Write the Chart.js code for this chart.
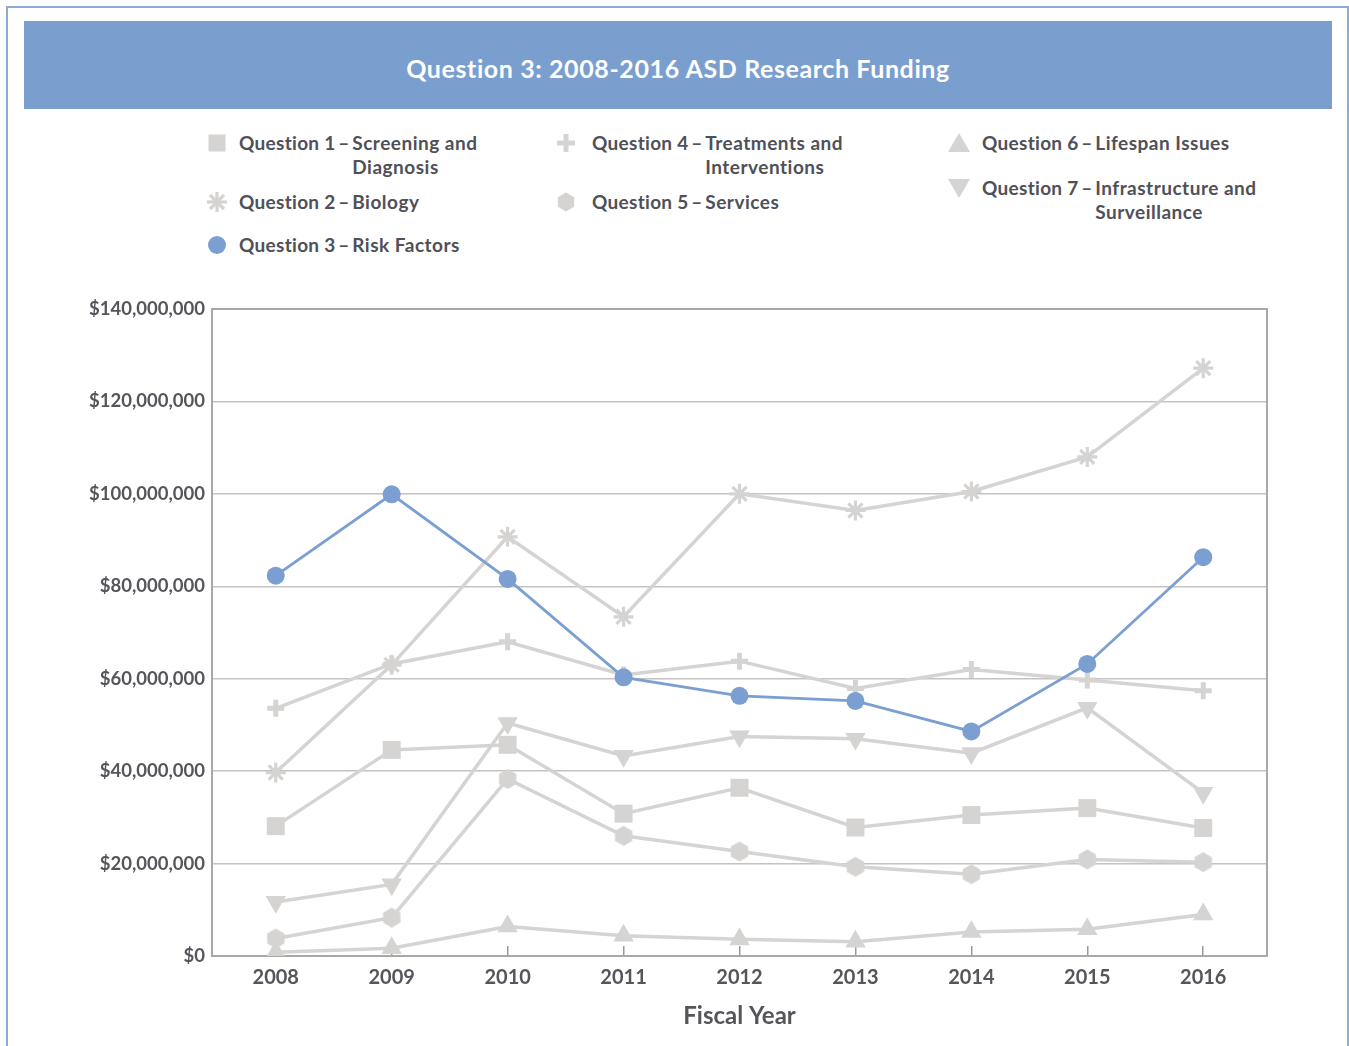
<!DOCTYPE html>
<html>
<head>
<meta charset="utf-8">
<script src="https://cdn.jsdelivr.net/npm/chart.js@4.4.1/dist/chart.umd.min.js"></script>
<style>
  html, body { margin: 0; padding: 0; background: #fff; }
  body { width: 1349px; height: 1046px; overflow: hidden; position: relative; font-family: Lato, "Noto Sans", sans-serif; }
  #frame { position: absolute; left: 6px; top: 6px; width: 1339px; height: 1100px; border: 2px solid #8eabd6; border-bottom: none; }
  #banner { position: absolute; left: 24px; top: 21px; width: 1308px; height: 88px; background: #7a9ecd; }
  #banner h1 { margin: 0; padding-top: 32px; text-align: center; color: #fff; font-size: 25px; font-weight: 700; letter-spacing: 0.6px; line-height: 30px; }
  .li { position: absolute; display: flex; align-items: flex-start; color: #4f5058; font-size: 19px; font-weight: 700; line-height: 24px; letter-spacing: 0.3px; white-space: nowrap; }
  .li svg { position: absolute; }
  .li .rest { letter-spacing: 0.5px; }
  #chartBox { position: absolute; left: 0; top: 290px; }
</style>
</head>
<body>
<div id="frame"></div>
<div id="banner"><h1>Question 3: 2008-2016 ASD Research Funding</h1></div>
<div id="legend"></div>
<div id="chartBox"><canvas id="c" width="1349" height="756"></canvas></div>
<script>
const years = [2008, 2009, 2010, 2011, 2012, 2013, 2014, 2015, 2016];

const seriesPrefix = ["Question 1", "Question 2", "Question 3", "Question 4", "Question 5", "Question 6", "Question 7"];
const seriesRest = [["Screening and", "Diagnosis"], ["Biology"], ["Risk Factors"], ["Treatments and", "Interventions"], ["Services"], ["Lifespan Issues"], ["Infrastructure and", "Surveillance"]];

// funding in dollars
const q1 = [28.1e6, 44.6e6, 45.7e6, 30.8e6, 36.4e6, 27.8e6, 30.5e6, 32.0e6, 27.7e6];
const q2 = [39.7e6, 63.0e6, 90.7e6, 73.4e6, 100.0e6, 96.4e6, 100.5e6, 108.0e6, 127.2e6];
const q3 = [82.3e6, 99.9e6, 81.6e6, 60.3e6, 56.3e6, 55.2e6, 48.6e6, 63.2e6, 86.3e6];
const q4 = [53.6e6, 63.2e6, 68.0e6, 60.8e6, 63.8e6, 57.9e6, 62.0e6, 59.7e6, 57.4e6];
const q5 = [3.8e6, 8.3e6, 38.3e6, 26.0e6, 22.6e6, 19.3e6, 17.7e6, 20.9e6, 20.3e6];
const q6 = [0.8e6, 1.7e6, 6.4e6, 4.4e6, 3.6e6, 3.1e6, 5.2e6, 5.8e6, 9.0e6];
const q7 = [11.7e6, 15.5e6, 50.4e6, 43.3e6, 47.5e6, 47.0e6, 43.9e6, 53.7e6, 35.3e6];

const yTicks = [0, 20e6, 40e6, 60e6, 80e6, 100e6, 120e6, 140e6];

const GREY = "#d5d4d2";
const BLUE = "#7a9fd0";

// legend, built as html so the hanging indent of the second lines can be kept
const legendPos = [
  { x: 239, y: 131, ix: 217 },
  { x: 239, y: 190, ix: 217 },
  { x: 239, y: 233, ix: 217 },
  { x: 592, y: 131, ix: 566 },
  { x: 592, y: 190, ix: 566 },
  { x: 982, y: 131, ix: 959 },
  { x: 982, y: 176, ix: 959 }
];

function icon(i) {
  const g = GREY;
  switch (i) {
    case 0: return `<rect x="2.5" y="2.5" width="17" height="17" fill="${g}"/>`;
    case 1: return `<g stroke="${g}" stroke-width="3.2"><line x1="11" y1="1" x2="11" y2="21"/><line x1="1" y1="11" x2="21" y2="11"/><line x1="4" y1="4" x2="18" y2="18"/><line x1="18" y1="4" x2="4" y2="18"/></g>`;
    case 2: return `<circle cx="11" cy="11" r="9" fill="${BLUE}"/>`;
    case 3: return `<g stroke="${g}" stroke-width="5"><line x1="11" y1="2" x2="11" y2="20"/><line x1="2" y1="11" x2="20" y2="11"/></g>`;
    case 4: return `<polygon points="11,1.5 19.2,6.25 19.2,15.75 11,20.5 2.8,15.75 2.8,6.25" fill="${g}"/>`;
    case 5: return `<polygon points="11,1 22,20 0,20" fill="${g}"/>`;
    case 6: return `<polygon points="0,2 22,2 11,21" fill="${g}"/>`;
  }
}

const legend = document.getElementById("legend");
legendPos.forEach((p, i) => {
  const d = document.createElement("div");
  d.className = "li";
  d.style.left = p.x + "px";
  d.style.top = p.y + "px";
  d.innerHTML = `<svg width="22" height="22" style="left:${p.ix - p.x - 11}px;top:1px">${icon(i)}</svg>` +
    `<span>${seriesPrefix[i].replace(/ /g, "&nbsp;")}&thinsp;–&thinsp;</span><span class="rest">${seriesRest[i].join("<br>")}</span>`;
  legend.appendChild(d);
});

// hexagon marker (no built-in point style for it)
function makeHex(r, color) {
  const c = document.createElement("canvas");
  const s = Math.ceil(r * 2 + 2);
  c.width = s; c.height = s;
  const ctx = c.getContext("2d");
  ctx.fillStyle = color;
  ctx.beginPath();
  for (let k = 0; k < 6; k++) {
    const a = -Math.PI / 2 + k * Math.PI / 3;
    const px = s / 2 + r * Math.cos(a), py = s / 2 + r * Math.sin(a);
    if (k === 0) ctx.moveTo(px, py); else ctx.lineTo(px, py);
  }
  ctx.closePath();
  ctx.fill();
  return c;
}
const hex = makeHex(10, GREY);

function pts(arr) {
  return years.map((yr, i) => ({ x: yr, y: arr[i] }));
}

function greySet(label, arr, extra) {
  return Object.assign({
    label,
    data: pts(arr),
    borderColor: GREY,
    borderWidth: 3.5,
    pointBackgroundColor: GREY,
    pointBorderColor: GREY,
    pointBorderWidth: 0,
    order: 1
  }, extra);
}

const plotBorder = {
  id: "plotBorder",
  beforeDatasetsDraw(chart) {
    const a = chart.chartArea, ctx = chart.ctx;
    ctx.save();
    ctx.strokeStyle = "#a8a8a8";
    ctx.lineWidth = 2;
    ctx.strokeRect(a.left, a.top, a.right - a.left, a.bottom - a.top);
    ctx.restore();
  }
};

new Chart(document.getElementById("c"), {
  type: "line",
  data: {
    datasets: [
      greySet("Question 1", q1, { pointStyle: "rect", pointRadius: 12.7 }),
      greySet("Question 2", q2, { pointStyle: "star", pointRadius: 10, pointBorderWidth: 3.2 }),
      {
        label: "Question 3",
        data: pts(q3),
        borderColor: BLUE,
        borderWidth: 2.8,
        pointBackgroundColor: BLUE,
        pointBorderWidth: 0,
        pointStyle: "circle",
        pointRadius: 9,
        order: 0
      },
      greySet("Question 4", q4, { pointStyle: "cross", pointRadius: 8.5, pointBorderWidth: 5 }),
      greySet("Question 5", q5, { pointStyle: hex, pointRadius: 10 }),
      greySet("Question 6", q6, { pointStyle: "triangle", pointRadius: 11.8 }),
      greySet("Question 7", q7, { pointStyle: "triangle", pointRotation: 180, pointRadius: 11.8 })
    ]
  },
  options: {
    responsive: false,
    animation: false,
    devicePixelRatio: 1,
    layout: { padding: { top: 19, right: 82, bottom: 0, left: 0 } },
    plugins: {
      legend: { display: false },
      tooltip: { enabled: false }
    },
    scales: {
      x: {
        type: "linear",
        min: 2007.45,
        max: 2016.55,
        afterBuildTicks: s => { s.ticks = years.map(v => ({ value: v })); },
        afterFit: s => { s.height = 90; },
        ticks: {
          callback: v => String(v),
          color: "#55565b",
          font: { family: "Lato", size: 20, weight: "bold" },
          padding: 20,
          maxRotation: 0
        },
        grid: { display: true, drawOnChartArea: false, drawTicks: true, tickLength: -10, color: "#9a9a9a", lineWidth: 1.5 },
        border: { display: true, color: "#a8a8a8", width: 2 },
        title: {
          display: true,
          text: "Fiscal Year",
          color: "#55565b",
          font: { family: "Lato", size: 24, weight: "bold" },
          padding: { top: 0, bottom: 15 }
        }
      },
      y: {
        min: 0,
        max: 140e6,
        afterBuildTicks: s => { s.ticks = yTicks.map(v => ({ value: v })); },
        afterFit: s => { s.width = 212; },
        ticks: {
          callback: v => "$" + Number(v).toLocaleString("en-US"),
          color: "#55565b",
          font: { family: "Lato", size: 18.5, weight: "bold" },
          padding: 7
        },
        grid: { color: "#c3c3c3", lineWidth: 1.5, drawTicks: false },
        border: { display: true, color: "#a8a8a8", width: 2 }
      }
    }
  },
  plugins: [plotBorder]
});
</script>
</body>
</html>
